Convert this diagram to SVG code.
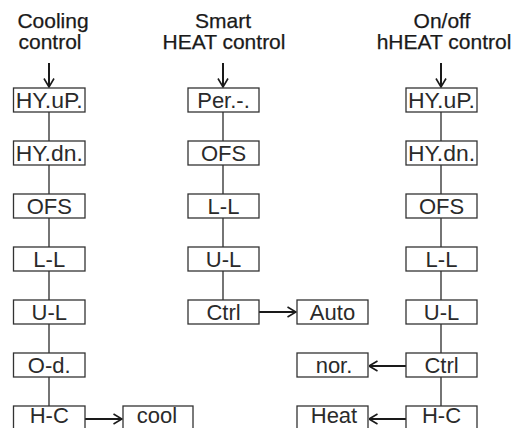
<svg xmlns="http://www.w3.org/2000/svg" width="515" height="428" viewBox="0 0 515 428">
<defs>
<style>
.box rect{fill:#fff;stroke:#333;stroke-width:1.3}
.box text{font-family:"Liberation Sans",Arial,sans-serif;font-size:22px;fill:#2a2a2a;text-anchor:middle}
.title text{font-family:"Liberation Sans",Arial,sans-serif;font-size:21px;fill:#1a1a1a;stroke:#1a1a1a;stroke-width:0.25;text-anchor:middle}
.conn line{stroke:#2a2a2a;stroke-width:1.3}
.conn .arr{stroke:#1a1a1a;stroke-width:2;marker-end:url(#ah)}
</style>
<marker id="ah" viewBox="0 0 10 12" refX="9.5" refY="6" markerWidth="5" markerHeight="6" markerUnits="strokeWidth" orient="auto">
<path d="M1,1 L9.5,6 L1,11" fill="none" stroke="#1a1a1a" stroke-width="1.6"/>
</marker>
</defs>
<rect width="515" height="428" fill="#fff"/>
<g class="title" id="titles">
<text x="53" y="28">Cooling</text>
<text x="50" y="49">control</text>
<text x="223" y="28">Smart</text>
<text x="224" y="49">HEAT control</text>
<text x="442" y="28">On/off</text>
<text x="444" y="49">hHEAT control</text>
</g>
<g class="conn" id="connectors">
<line x1="49" y1="112" x2="49" y2="406"/>
<line x1="223" y1="112" x2="223" y2="300"/>
<line x1="441" y1="112" x2="441" y2="406"/>
<line class="arr" x1="49" y1="63" x2="49" y2="87"/>
<line class="arr" x1="223" y1="63" x2="223" y2="87"/>
<line class="arr" x1="441" y1="63" x2="441" y2="87"/>
<line class="arr" x1="85" y1="419" x2="122" y2="419"/>
<line class="arr" x1="259" y1="312" x2="296" y2="312"/>
<line class="arr" x1="406" y1="366" x2="369" y2="366"/>
<line class="arr" x1="406" y1="419" x2="369" y2="419"/>
</g>
<g class="box" id="c-hyup"><rect x="13.5" y="88" width="71.5" height="24"/><text x="49.25" y="108" textLength="67" lengthAdjust="spacingAndGlyphs">HY.uP.</text></g>
<g class="box" id="c-hydn"><rect x="13.5" y="141" width="71.5" height="24"/><text x="49.25" y="161" textLength="67" lengthAdjust="spacingAndGlyphs">HY.dn.</text></g>
<g class="box" id="c-ofs"><rect x="13.5" y="194" width="71.5" height="24"/><text x="49.25" y="214">OFS</text></g>
<g class="box" id="c-ll"><rect x="13.5" y="247" width="71.5" height="24"/><text x="49.25" y="267">L-L</text></g>
<g class="box" id="c-ul"><rect x="13.5" y="300" width="71.5" height="24"/><text x="49.25" y="320">U-L</text></g>
<g class="box" id="c-od"><rect x="13.5" y="353" width="71.5" height="24"/><text x="49.25" y="373">O-d.</text></g>
<g class="box" id="c-hc"><rect x="13.5" y="406" width="71.5" height="24"/><text x="49.25" y="423">H-C</text></g>
<g class="box" id="c-cool"><rect x="123" y="406" width="70" height="24"/><text x="157" y="423">cool</text></g>
<g class="box" id="s-per"><rect x="188" y="88" width="71" height="24"/><text x="223.5" y="108">Per.-.</text></g>
<g class="box" id="s-ofs"><rect x="188" y="141" width="71" height="24"/><text x="223.5" y="161">OFS</text></g>
<g class="box" id="s-ll"><rect x="188" y="194" width="71" height="24"/><text x="223.5" y="214">L-L</text></g>
<g class="box" id="s-ul"><rect x="188" y="247" width="71" height="24"/><text x="223.5" y="267">U-L</text></g>
<g class="box" id="s-ctrl"><rect x="188" y="300" width="71" height="24"/><text x="223.5" y="320">Ctrl</text></g>
<g class="box" id="s-auto"><rect x="297" y="300" width="71" height="24"/><text x="332.5" y="320">Auto</text></g>
<g class="box" id="o-hyup"><rect x="406" y="88" width="71" height="24"/><text x="441.5" y="108" textLength="67" lengthAdjust="spacingAndGlyphs">HY.uP.</text></g>
<g class="box" id="o-hydn"><rect x="406" y="141" width="71" height="24"/><text x="441.5" y="161" textLength="67" lengthAdjust="spacingAndGlyphs">HY.dn.</text></g>
<g class="box" id="o-ofs"><rect x="406" y="194" width="71" height="24"/><text x="441.5" y="214">OFS</text></g>
<g class="box" id="o-ll"><rect x="406" y="247" width="71" height="24"/><text x="441.5" y="267">L-L</text></g>
<g class="box" id="o-ul"><rect x="406" y="300" width="71" height="24"/><text x="441.5" y="320">U-L</text></g>
<g class="box" id="o-ctrl"><rect x="406" y="353" width="71" height="24"/><text x="441.5" y="373">Ctrl</text></g>
<g class="box" id="o-hc"><rect x="406" y="406" width="71" height="24"/><text x="441.5" y="423">H-C</text></g>
<g class="box" id="o-nor"><rect x="297" y="353" width="71" height="24"/><text x="334" y="373">nor.</text></g>
<g class="box" id="o-heat"><rect x="297" y="406" width="71" height="24"/><text x="334" y="423">Heat</text></g>
</svg>
